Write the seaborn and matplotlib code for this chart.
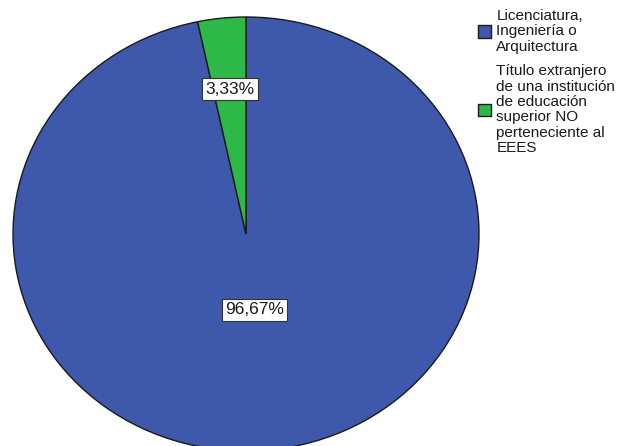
import numpy as np
import matplotlib
matplotlib.use("Agg")
import matplotlib.pyplot as plt
import seaborn as sns

categories = ["Licenciatura,\nIngeniería o\nArquitectura",
              "Título extranjero\nde una institución\nde educación\nsuperior NO\nperteneciente al\nEEES"]
values = [96.67, 3.33]
colors = ["#3E58AC", "#2EB848"]
label_dist = [0.35, 0.67]

sns.set_theme(style="white")
plt.rcParams['font.family'] = ['Liberation Sans', 'DejaVu Sans']

W, H = 632, 446
fig = plt.figure(figsize=(W / 100, H / 100), dpi=100)
fig.patch.set_facecolor("white")
# axes placed in pixel space (ellipse, clipped at bottom)
left, top, aw, ah = 13, 17, 466, 434
ax = fig.add_axes([left / W, (H - top - ah) / H, aw / W, ah / H])
ax.set_facecolor("white")

wedges, texts, autotexts = ax.pie(
    values, colors=colors, startangle=90, counterclock=False,
    autopct=lambda p: f"{p:.2f}%".replace(".", ","),
    wedgeprops=dict(edgecolor="#1a1a1a", linewidth=1.0),
    textprops=dict(fontsize=12.5, color="#1a1a1a"),
)
ax.set_xlim(-1, 1)
ax.set_ylim(-1, 1)
ax.set_aspect("auto")
ax.axis("off")

for w, t, d in zip(wedges, autotexts, label_dist):
    ang = np.deg2rad((w.theta1 + w.theta2) / 2)
    t.set_position((d * np.cos(ang), d * np.sin(ang)))
    t.set_bbox(dict(boxstyle="square,pad=0.2", fc="white", ec="#333333", lw=0.8))

leg = fig.legend(wedges, categories, loc="upper left",
                 bbox_to_anchor=(478 / W, 1 - 9 / H), frameon=False,
                 fontsize=11, handlelength=0.85, handleheight=0.9,
                 handletextpad=0.35, labelspacing=0.7, borderpad=0,
                 borderaxespad=0)
for t in leg.get_texts():
    t.set_linespacing(1.12)
    t.set_color("#1a1a1a")

fig.savefig("out.png", dpi=100, facecolor="white")
